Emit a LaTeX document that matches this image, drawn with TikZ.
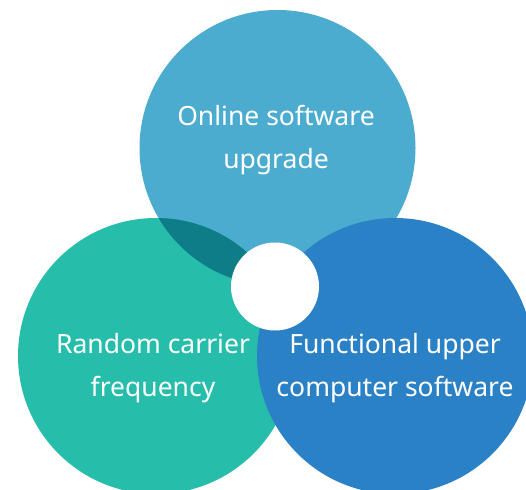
\documentclass[tikz,border=0pt]{standalone}
\usepackage{fontspec}
\setmainfont{Noto Sans}
\definecolor{topc}{HTML}{4BACCF}
\definecolor{leftc}{HTML}{26BDAB}
\definecolor{rightc}{HTML}{2A81C5}
\definecolor{darkc}{HTML}{0E7D87}
\begin{document}
\begin{tikzpicture}[x=1pt,y=-1pt,
  lbl/.style={text=white,align=center,font=\fontsize{26.5}{43}\selectfont,inner sep=0pt}]
\useasboundingbox (0,0) rectangle (526,489);
\begin{scope}
\clip (0,0) rectangle (526,489);
\fill[topc] (277.5,148) circle[radius=138];
\fill[leftc] (156,356) circle[radius=138];
\begin{scope}
\clip (277.5,148) circle[radius=138];
\fill[darkc] (156,356) circle[radius=138];
\end{scope}
\fill[rightc] (395,356) circle[radius=138];
\fill[white] (275,286.5) circle[radius=44];
\end{scope}
\node[lbl] (t) at (276,140) {Online software\\upgrade};
\node[lbl] (l) at (153,368) {Random carrier\\frequency};
\node[lbl] (r) at (395,368) {Functional upper\\computer software};
\end{tikzpicture}
\end{document}
